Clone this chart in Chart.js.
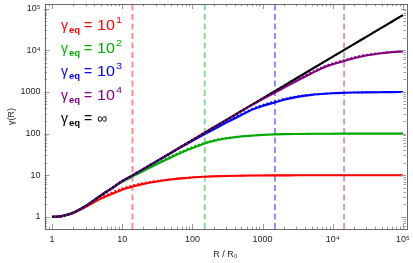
<!DOCTYPE html>
<html><head><meta charset="utf-8">
<script src="https://cdn.jsdelivr.net/npm/chart.js@4"></script>
<style>html,body{margin:0;padding:0;background:#fff}#wrap{width:413px;height:263px}</style>
</head><body><div id="wrap"><canvas id="c" width="413" height="263"></canvas></div>
<script>
// R / R0 sample points
const radii = [1,1.25,1.5,2,2.5,3,5,7,10,15,20,30,50,70,100,150,200,300,500,700,1000,1500,2000,3000,5000,7000,10000,15000,20000,30000,50000,70000,100000];
// gamma_eq = infinity
const gammaInf = [1,1.02,1.08,1.26,1.52,1.82,3.3,4.8,7.2,10.6,14.1,21,35,49,70,105,140,210,350,490,700,1050,1400,2100,3500,4900,7000,10500,14000,21000,35000,49000,70000];
// gamma_eq = 10 (solid and dotted)
const gamma10 = [1,1.02,1.07,1.23,1.47,1.72,2.75,3.5,4.5,5.5,6.2,7.0,7.9,8.4,8.85,9.2,9.4,9.6,9.75,9.83,9.88,9.92,9.94,9.96,9.98,9.99,10,10,10,10,10,10,10];
const gamma10Dot = [1,1.02,1.08,1.25,1.53,1.82,3.0,3.85,4.85,5.85,6.55,7.3,8.1,8.6,9.0,9.3,9.5,9.65,9.8,9.86,9.9,9.93,9.95,9.97,9.98,9.99,10,10,10,10,10,10,10];
// gamma_eq = 100
const gamma100 = [1,1.02,1.08,1.26,1.52,1.82,3.3,4.75,6.9,9.9,12.6,17.8,27,35,45,58,66,76,85,89,93,95.5,96.8,97.9,98.7,99.1,99.4,99.6,99.7,99.8,99.9,99.95,100];
const gamma100Dot = [1,1.02,1.08,1.26,1.52,1.82,3.3,4.8,7.05,10.3,13.2,19,29,37.5,48,61,69.5,79,87,90.5,94,96.2,97.3,98.2,98.9,99.2,99.5,99.6,99.7,99.8,99.9,99.95,100];
// gamma_eq = 1000
const gamma1000 = [1,1.02,1.08,1.26,1.52,1.82,3.3,4.8,7.2,10.6,14.1,21,34.5,48,67,97,125,180,280,370,460,560,645,750,850,890,930,952,965,977,986,990,993];
const gamma1000Dot = [1,1.02,1.08,1.26,1.52,1.82,3.3,4.8,7.2,10.6,14.1,21,35,49,69,101,131,190,297,392,490,595,680,780,868,903,938,957,968,979,987,991,994];
// gamma_eq = 10^4
const gamma1e4 = [1,1.02,1.08,1.26,1.52,1.82,3.3,4.8,7.2,10.6,14.1,21,35,49,70,105,140,208,345,480,670,970,1250,1800,2800,3700,4600,5600,6450,7500,8500,9000,9400];
const gamma1e4Dot = [1,1.02,1.08,1.26,1.52,1.82,3.3,4.8,7.2,10.6,14.1,21,35,49,70,105,140,210,350,490,690,1010,1310,1900,2970,3930,4900,5950,6800,7800,8700,9120,9480];
// vertical dashed markers (R / R0)
const satRadii = [14, 150, 1500, 14500];
// tick labels
const xTickLabels = {1:'1',10:'10',100:'100',1000:'1000',10000:'10⁴',100000:'10⁵'};
const yTickLabels = {1:'1',10:'10',100:'100',1000:'1000',10000:'10⁴',100000:'10⁵'};
// legend
const legendExps = ['1','2','3','4',''];

const colors = ['#ff0000','#00aa00','#0000ff','#800080','#000000'];
const vColors = ['rgba(255,0,0,0.45)','rgba(0,170,0,0.45)','rgba(0,0,255,0.45)','rgba(128,0,128,0.4)'];

const xMin = Math.pow(10,-0.107), xMax = Math.pow(10,5.043);
const yMin = Math.pow(10,-0.29), yMax = Math.pow(10,5.11);

const pts = arr => radii.map((r,i)=>({x:r,y:arr[i]}));
function curve(arr,color,order,dotted){
  return {data:pts(arr),borderColor:color,borderWidth:dotted?1.6:2.1,borderDash:dotted?[2,2]:[],
    pointRadius:0,cubicInterpolationMode:'monotone',fill:false,order:order};
}
const datasets = [];
satRadii.forEach((r,i)=>datasets.push({data:[{x:r,y:yMin},{x:r,y:yMax}],borderColor:vColors[i],borderWidth:2,borderDash:[6,3.5],pointRadius:0,fill:false,order:100}));
datasets.push(curve(gammaInf,colors[4],60,false));
datasets.push(curve(gamma10,colors[0],55,false));
datasets.push(curve(gamma100,colors[1],54,false));
datasets.push(curve(gamma1000,colors[2],53,false));
datasets.push(curve(gamma1e4,colors[3],52,false));
datasets.push(curve(gamma10Dot,colors[0],20,true));
datasets.push(curve(gamma100Dot,colors[1],19,true));
datasets.push(curve(gamma1000Dot,colors[2],18,true));
datasets.push(curve(gamma1e4Dot,colors[3],17,true));
datasets.push(curve(gammaInf,colors[4],5,true));

function logTicks(min,max){
  const t=[];
  for(let e=-1;e<=6;e++){
    for(let m=1;m<=9;m++){
      const v=m*Math.pow(10,e);
      if(v>=min*0.999 && v<=max*1.001) t.push({value:v,major:m===1});
    }
  }
  return t;
}

const frameTicks = {
  id:'frameTicks',
  afterDraw(chart){
    const {ctx,chartArea:a,scales:{x,y}} = chart;
    ctx.save();
    ctx.lineWidth=1;
    ctx.strokeStyle='#999';
    const ln=(x1,y1,x2,y2)=>{ctx.beginPath();ctx.moveTo(x1,y1);ctx.lineTo(x2,y2);ctx.stroke();};
    for(const t of x.ticks){
      const px=Math.round(x.getPixelForValue(t.value))+0.5;
      if(px<a.left||px>a.right) continue;
      const L=t.major?5:2.5;
      ln(px,a.bottom,px,a.bottom-L); ln(px,a.top,px,a.top+L);
    }
    for(const t of y.ticks){
      const py=Math.round(y.getPixelForValue(t.value))+0.5;
      if(py<a.top||py>a.bottom) continue;
      const L=t.major?5:2.5;
      ln(a.left,py,a.left+L,py); ln(a.right,py,a.right-L,py);
    }
    ctx.strokeStyle='#666';
    ctx.strokeRect(Math.round(a.left)+0.5,Math.round(a.top)+0.5,Math.round(a.right-a.left),Math.round(a.bottom-a.top));
    // legend
    const rows=[29.5,53,76.3,99.6,122.5];
    rows.forEach((by,i)=>{
      ctx.fillStyle=colors[i];
      ctx.textBaseline='alphabetic'; ctx.textAlign='left';
      ctx.font='14px "Liberation Sans"';
      ctx.fillText('γ',61,by);
      ctx.font='bold 9.5px "Liberation Sans"';
      ctx.fillText('eq',69,by+3);
      ctx.font='14px "Liberation Sans"';
      ctx.fillText('=',84,by);
      if(i<4){
        ctx.save(); ctx.translate(97,by); ctx.scale(1.15,1);
        ctx.fillText('10',0,0);
        const w=ctx.measureText('10').width;
        ctx.font='9.5px "Liberation Sans"';
        ctx.fillText(legendExps[i],w+1,-7);
        ctx.restore();
      } else {
        ctx.fillText('∞',97,by);
      }
    });
    ctx.restore();
  }
};

new Chart(document.getElementById('c'),{
  type:'line',
  data:{datasets},
  options:{
    responsive:false,animation:false,devicePixelRatio:1,events:[],
    layout:{padding:{left:0,top:4,right:7,bottom:0}},
    plugins:{legend:{display:false},tooltip:{enabled:false}},
    scales:{
      x:{type:'logarithmic',min:xMin,max:xMax,
        afterBuildTicks:s=>{s.ticks=logTicks(xMin,xMax);},
        afterFit:s=>{s.height=34;s.paddingLeft=0;s.paddingRight=0;},
        grid:{display:false,drawTicks:false},border:{display:false},
        ticks:{autoSkip:false,maxRotation:0,minRotation:0,padding:5,color:'#222',font:{family:'Liberation Sans',size:9},
          callback:(v)=>xTickLabels[Math.round(v)] && Math.abs(Math.log10(v)-Math.round(Math.log10(v)))<1e-6 ? xTickLabels[Math.round(v)] : ''},
        title:{display:true,text:'R / R₀',color:'#222',font:{family:'Liberation Sans',size:9},padding:{top:0,bottom:3}}
      },
      y:{type:'logarithmic',min:yMin,max:yMax,
        afterBuildTicks:s=>{s.ticks=logTicks(yMin,yMax);},
        afterFit:s=>{s.width=44.5;s.paddingTop=0;s.paddingBottom=0;},
        grid:{display:false,drawTicks:false},border:{display:false},
        ticks:{autoSkip:false,padding:4,color:'#222',font:{family:'Liberation Sans',size:9},
          callback:(v)=>yTickLabels[Math.round(v)] && Math.abs(Math.log10(v)-Math.round(Math.log10(v)))<1e-6 ? yTickLabels[Math.round(v)] : ''},
        title:{display:true,text:'γ(R)',color:'#222',font:{family:'Liberation Sans',size:9},padding:{top:6,bottom:0}}
      }
    }
  },
  plugins:[frameTicks]
});
</script></body></html>
